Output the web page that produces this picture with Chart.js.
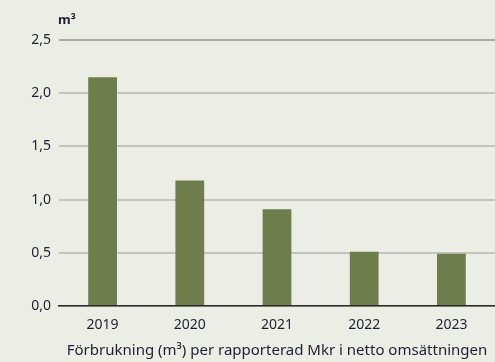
<!DOCTYPE html>
<html lang="sv">
<head>
<meta charset="utf-8">
<script src="https://cdn.jsdelivr.net/npm/chart.js@4/dist/chart.umd.min.js"></script>
<style>
    html, body { margin: 0; padding: 0; background: #eceee5; }
    #wrap { width: 495px; height: 362px; }
</style>
</head>
<body>
<div id="wrap"><canvas id="chartCanvas"></canvas></div>
<script>
// Förbrukning per år (m³ per rapporterad Mkr)
const years = ["2019", "2020", "2021", "2022", "2023"];
const usage = [2.15, 1.18, 0.91, 0.51, 0.49];
const yTicks = [0, 0.5, 1.0, 1.5, 2.0, 2.5];
const unitLabel = "m³";
const xTitle = "Förbrukning (m³) per rapporterad Mkr i netto omsättningen";

const textColor = "#1e2030";
const fontFamily = "'Noto Sans', 'Open Sans', sans-serif";

// enhet ovanför y-axeln
const unitPlugin = {
    id: "unitLabel",
    afterDraw(chart) {
        const ctx = chart.ctx;
        ctx.save();
        ctx.font = "bold 13px " + fontFamily;
        ctx.fillStyle = textColor;
        ctx.textAlign = "left";
        ctx.textBaseline = "middle";
        ctx.fillText(unitLabel, chart.chartArea.left - 1, 20);
        ctx.restore();
    }
};

const ctx = document.getElementById("chartCanvas").getContext("2d");

new Chart(ctx, {
    type: "bar",
    data: {
        labels: years,
        datasets: [{
            data: usage,
            backgroundColor: "#6d7e4c",
            barPercentage: 0.66,
            categoryPercentage: 0.5
        }]
    },
    options: {
        responsive: true,
        maintainAspectRatio: false,
        animation: false,
        layout: { padding: { top: 40, right: 0, left: 0, bottom: 0 } },
        plugins: {
            legend: { display: false },
            tooltip: { enabled: false }
        },
        scales: {
            x: {
                grid: { display: false, drawTicks: false },
                border: { color: "#2b2b2b", width: 1.5 },
                ticks: {
                    color: textColor,
                    font: { family: fontFamily, size: 14 },
                    padding: 11
                },
                title: {
                    display: true,
                    text: xTitle,
                    color: textColor,
                    font: { family: fontFamily, size: 15 },
                    padding: { top: 2, bottom: 2 }
                },
                afterFit(scale) { scale.height = 56; }
            },
            y: {
                min: 0,
                max: 2.5,
                afterBuildTicks(scale) {
                    scale.ticks = yTicks.map(v => ({ value: v }));
                },
                grid: {
                    drawTicks: false,
                    lineWidth: 2,
                    color: c => c.tick && c.tick.value === 2.5 ? "#a9aaa5" : "#c4c5bd"
                },
                border: { display: false },
                ticks: {
                    color: textColor,
                    font: { family: fontFamily, size: 14 },
                    padding: 8,
                    callback: v => v.toFixed(1).replace(".", ",")
                },
                afterFit(scale) { scale.width = 59; }
            }
        }
    },
    plugins: [unitPlugin]
});
</script>
</body>
</html>
